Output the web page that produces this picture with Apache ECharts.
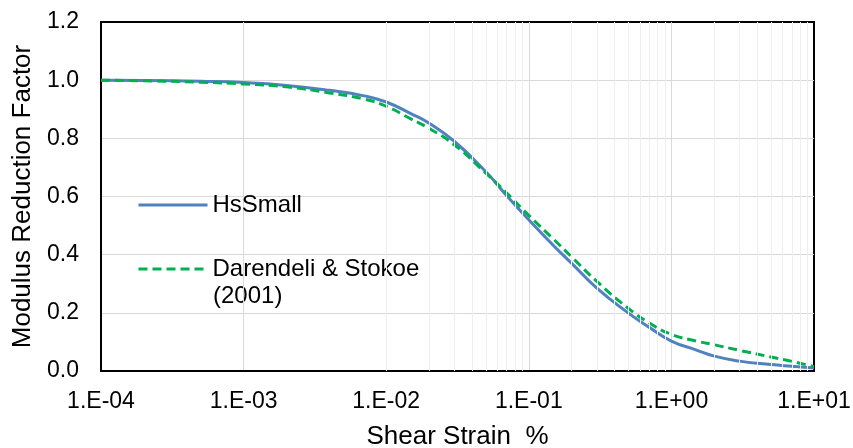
<!DOCTYPE html>
<html>
<head>
<meta charset="utf-8">
<script src="https://cdn.jsdelivr.net/npm/echarts@6/dist/echarts.min.js"></script>
<style>
html,body{margin:0;padding:0;background:#fff;}
#chart{width:853px;height:448px;}
</style>
</head>
<body>
<div id="chart"></div>
<script>
// ---- data ----
var hsSmallStrain = [1e-4, 2e-4, 5e-4, 1e-3, 2e-3, 4e-3, 7e-3, 1e-2, 1.5e-2, 2e-2, 3e-2, 5e-2, 7e-2, 0.1, 0.15, 0.2, 0.3, 0.5, 0.7, 1, 1.5, 2, 3, 5, 7, 10];
var hsSmallG = [1.000, 0.999, 0.996, 0.992, 0.982, 0.965, 0.946, 0.925, 0.884, 0.852, 0.790, 0.685, 0.603, 0.520, 0.430, 0.370, 0.285, 0.199, 0.150, 0.103, 0.072, 0.051, 0.034, 0.022, 0.016, 0.010];

var darendeliStrain = [1e-4, 2e-4, 5e-4, 1e-3, 2e-3, 4e-3, 7e-3, 1e-2, 1.5e-2, 2e-2, 3e-2, 5e-2, 7e-2, 0.1, 0.15, 0.2, 0.3, 0.5, 0.7, 1, 1.5, 2, 3, 5, 7, 10];
var darendeliG = [1.000, 0.998, 0.993, 0.987, 0.977, 0.956, 0.935, 0.910, 0.866, 0.834, 0.778, 0.680, 0.612, 0.535, 0.452, 0.392, 0.308, 0.215, 0.165, 0.126, 0.103, 0.090, 0.071, 0.048, 0.033, 0.015];

var seriesNames = ['HsSmall', 'Darendeli & Stokoe'];
var legendSecondLine = '(2001)';
var xAxisTitle = 'Shear Strain  %';
var yAxisTitle = 'Modulus Reduction Factor';
var yTicks = [0.0, 0.2, 0.4, 0.6, 0.8, 1.0, 1.2];
var xDecades = [1e-4, 1e-3, 1e-2, 1e-1, 1, 10];
var minorMultipliers = [2, 3, 4, 5, 6, 7, 8, 9];

// ---- build ----
function pairs(xs, ys) { return xs.map(function (x, i) { return [x, ys[i]]; }); }
var minorLines = [];
xDecades.slice(0, -1).forEach(function (d) {
  minorMultipliers.forEach(function (m) { minorLines.push({ xAxis: +(d * m).toPrecision(3) }); });
});
function expLabel(v) {
  var e = Math.round(Math.log10(v));
  return '1.E' + (e < 0 ? '-' : '+') + String(Math.abs(e)).padStart(2, '0');
}
var FONT = '"Liberation Sans", Arial, sans-serif';

var chart = echarts.init(document.getElementById('chart'), null, { renderer: 'canvas' });
chart.setOption({
  animation: false,
  backgroundColor: '#fff',
  textStyle: { fontFamily: FONT, color: '#000' },
  grid: {
    left: 101, right: 39, top: 22, bottom: 77, containLabel: false, outerBoundsMode: 'none',
    show: true, borderColor: '#000', borderWidth: 2, backgroundColor: 'transparent'
  },
  legend: {
    data: seriesNames,
    orient: 'vertical',
    left: 137, top: 193,
    padding: 0,
    itemGap: 40,
    itemWidth: 69, itemHeight: 2,
    itemStyle: { opacity: 0 },
    lineStyle: { width: 3 },
    textStyle: { fontSize: 24, color: '#000', fontFamily: FONT },
    selectedMode: false
  },
  graphic: [{
    type: 'text', left: 213, top: 284,
    style: { text: legendSecondLine, fontSize: 24, fill: '#000', fontFamily: FONT }
  }],
  xAxis: {
    type: 'log', logBase: 10, min: xDecades[0], max: xDecades[xDecades.length - 1],
    name: xAxisTitle, nameLocation: 'middle', nameGap: 53,
    nameTextStyle: { fontSize: 26, color: '#000', fontFamily: FONT },
    axisLine: { show: true, onZero: false, lineStyle: { color: '#000', width: 2 } },
    axisTick: { show: false },
    axisLabel: { fontSize: 23, color: '#000', margin: 19, formatter: expLabel, fontFamily: FONT },
    splitLine: { show: true, showMinLine: false, showMaxLine: false, lineStyle: { color: '#d9d9d9', width: 1 } }
  },
  yAxis: {
    type: 'value', min: yTicks[0], max: yTicks[yTicks.length - 1], interval: 0.2,
    name: yAxisTitle, nameLocation: 'middle', nameGap: 65,
    nameTextStyle: { fontSize: 26, color: '#000', fontFamily: FONT },
    axisLine: { show: true, lineStyle: { color: '#000', width: 2 } },
    axisTick: { show: false },
    axisLabel: { fontSize: 23, color: '#000', margin: 22, formatter: function (v) { return v.toFixed(1); }, fontFamily: FONT },
    splitLine: { show: true, showMinLine: false, showMaxLine: false, lineStyle: { color: '#d9d9d9', width: 1 } }
  },
  series: [
    {
      name: '_minor', type: 'line', data: [], z: 1, silent: true,
      markLine: {
        silent: true, symbol: ['none', 'none'], animation: false,
        label: { show: false },
        emphasis: { disabled: true },
        lineStyle: { color: '#eeeeee', width: 1, type: 'solid' },
        data: minorLines
      }
    },
    {
      name: seriesNames[0], type: 'line', z: 3,
      data: pairs(hsSmallStrain, hsSmallG),
      showSymbol: false, symbol: 'none', smooth: 0.5,
      itemStyle: { color: '#5081c0' },
      lineStyle: { color: '#5081c0', width: 3 }
    },
    {
      name: seriesNames[1], type: 'line', z: 4,
      data: pairs(darendeliStrain, darendeliG),
      showSymbol: false, symbol: 'none', smooth: 0.5,
      itemStyle: { color: '#00b050' },
      lineStyle: { color: '#00b050', width: 3, type: [9, 5] }
    }
  ]
});
</script>
</body>
</html>
